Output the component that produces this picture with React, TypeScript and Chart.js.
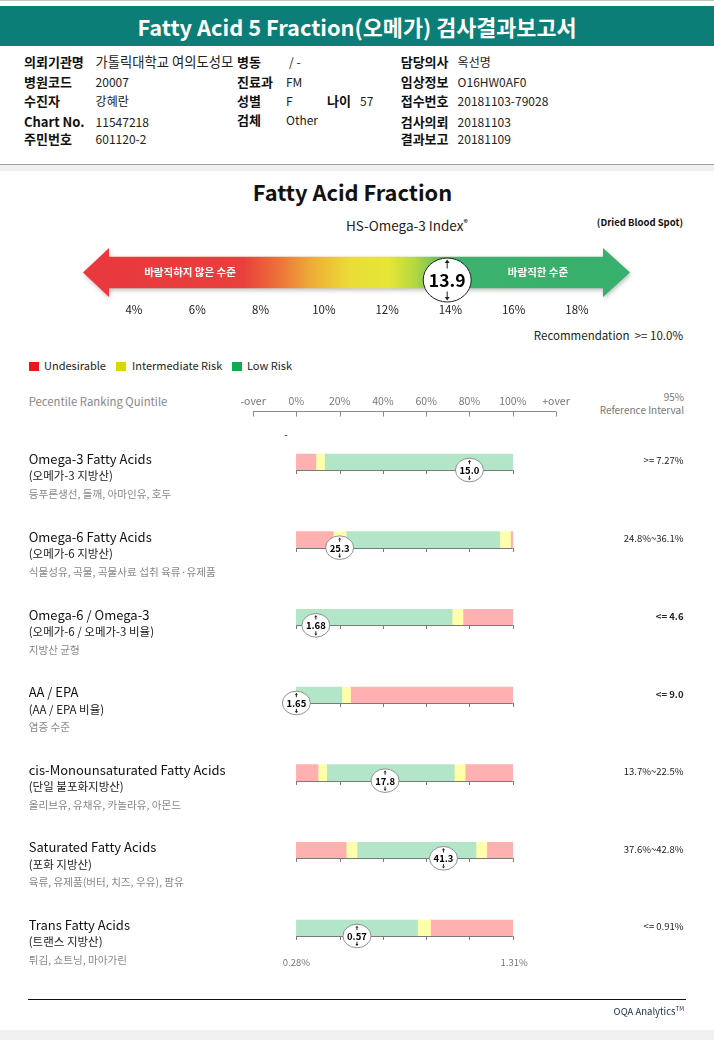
import React, { useEffect, useRef } from 'react';
import { Chart, registerables } from 'chart.js';

Chart.register(...registerables);

const FONT = "'Noto Sans CJK KR', 'Noto Sans', sans-serif";

// ---------------- data ----------------
const indexTicks = [4, 6, 8, 10, 12, 14, 16, 18];
const indexValue = 13.9;
const indexRecommendation = '>= 10.0%';

const rowNames = [
  'Omega-3 Fatty Acids',
  'Omega-6 Fatty Acids',
  'Omega-6 / Omega-3',
  'AA / EPA',
  'cis-Monounsaturated Fatty Acids',
  'Saturated Fatty Acids',
  'Trans Fatty Acids',
];
const rowKorean = [
  '(오메가-3 지방산)',
  '(오메가-6 지방산)',
  '(오메가-6 / 오메가-3 비율)',
  '(AA / EPA 비율)',
  '(단일 불포화지방산)',
  '(포화 지방산)',
  '(트랜스 지방산)',
];
const rowSources = [
  '등푸른생선, 들깨, 아마인유, 호두',
  '식물성유, 곡물, 곡물사료 섭취 육류·유제품',
  '지방산 균형',
  '염증 수준',
  '올리브유, 유채유, 카놀라유, 아몬드',
  '육류, 유제품(버터, 치즈, 우유), 팜유',
  '튀김, 쇼트닝, 마아가린',
];
const referenceIntervals = ['>= 7.27%', '24.8%~36.1%', '<= 4.6', '<= 9.0', '13.7%~22.5%', '37.6%~42.8%', '<= 0.91%'];
const referenceBold = [false, false, true, true, false, false, false];
const resultValues = ['15.0', '25.3', '1.68', '1.65', '17.8', '41.3', '0.57'];
const resultPercentiles = [80, 20, 9, 0, 41, 68, 28];

// zone kinds (U = undesirable, I = intermediate, L = low risk) and zone end percentiles
const zoneKinds = [
  ['U', 'I', 'L'],
  ['U', 'I', 'L', 'I', 'U'],
  ['L', 'I', 'U'],
  ['L', 'I', 'U'],
  ['U', 'I', 'L', 'I', 'U'],
  ['U', 'I', 'L', 'I', 'U'],
  ['L', 'I', 'U'],
];
const zoneEnds = [
  [9, 13, 100],
  [17, 23, 94, 99, 100],
  [72, 77, 100],
  [21, 25, 100],
  [10, 14, 73, 78, 100],
  [23, 28, 83, 88, 100],
  [56, 62, 100],
];
const quintileTicks = [-20, 0, 20, 40, 60, 80, 100, 120];
const quintileLabels = ['-over', '0%', '20%', '40%', '60%', '80%', '100%', '+over'];
const transRangeLabels = ['0.28%', '1.31%'];

const legendLabels = ['Undesirable', 'Intermediate Risk', 'Low Risk'];

const infoLabels1 = ['의뢰기관명', '병원코드', '수진자', 'Chart No.', '주민번호'];
const infoValues1 = ['가톨릭대학교 여의도성모', '20007', '강혜란', '11547218', '601120-2'];
const infoLabels3 = ['담당의사', '임상정보', '접수번호', '검사의뢰', '결과보고'];
const infoValues3 = ['옥선명', 'O16HW0AF0', '20181103-79028', '20181103', '20181109'];

// ---------------- styles ----------------
const zoneColors: Record<string, string> = { U: '#ffb1b1', I: '#ffffab', L: '#b3e6c8' };
const legendColors = ['#f01414', '#d8d800', '#16a652'];

type TP = {
  x: number;
  y: number;
  s: number;
  c?: string;
  w?: number;
  a?: 'left' | 'center' | 'right';
  children: React.ReactNode;
  clip?: number;
};
function T({ x, y, s, c = '#111', w = 400, a = 'left', children, clip }: TP) {
  const style: React.CSSProperties = {
    position: 'absolute',
    top: y,
    fontSize: s,
    color: c,
    fontWeight: w,
    lineHeight: 1.2,
    whiteSpace: 'nowrap',
    fontFamily: FONT,
  };
  let tx = '';
  if (a === 'left') style.left = x;
  else if (a === 'right') style.right = 714 - x;
  else {
    style.left = x;
    tx = 'translateX(-50%) ';
  }
  style.transform = tx + 'translateY(-50%)';
  if (clip) {
    style.width = clip;
    style.overflow = 'hidden';
  }
  return <div style={style}>{children}</div>;
}

function drawMarker(
  ctx: CanvasRenderingContext2D,
  x: number,
  y: number,
  rx: number,
  ry: number,
  text: string,
  fontSize: number,
  arrowLen: number,
  head: number,
  lw: number,
  stroke: string
) {
  ctx.save();
  ctx.beginPath();
  ctx.ellipse(x, y, rx, ry, 0, 0, Math.PI * 2);
  ctx.fillStyle = '#ffffff';
  ctx.fill();
  ctx.lineWidth = lw;
  ctx.strokeStyle = stroke;
  ctx.stroke();
  // arrows
  ctx.strokeStyle = '#222';
  ctx.fillStyle = '#222';
  ctx.lineWidth = 1;
  const t = y - ry + 1.5;
  ctx.beginPath();
  ctx.moveTo(x, t + head);
  ctx.lineTo(x, t + arrowLen);
  ctx.stroke();
  ctx.beginPath();
  ctx.moveTo(x, t);
  ctx.lineTo(x - head * 0.7, t + head);
  ctx.lineTo(x + head * 0.7, t + head);
  ctx.closePath();
  ctx.fill();
  const b = y + ry - 1.5;
  ctx.beginPath();
  ctx.moveTo(x, b - head);
  ctx.lineTo(x, b - arrowLen);
  ctx.stroke();
  ctx.beginPath();
  ctx.moveTo(x, b);
  ctx.lineTo(x - head * 0.7, b - head);
  ctx.lineTo(x + head * 0.7, b - head);
  ctx.closePath();
  ctx.fill();
  ctx.font = `bold ${fontSize}px ${FONT}`;
  ctx.textAlign = 'center';
  ctx.textBaseline = 'middle';
  ctx.fillStyle = '#000';
  ctx.fillText(text, x, y + 0.5);
  ctx.restore();
}

function IndexChart() {
  const ref = useRef<HTMLCanvasElement>(null);
  useEffect(() => {
    if (!ref.current) return;
    const arrowPlugin = {
      id: 'arrowBand',
      beforeDatasetsDraw(chart: any) {
        const { ctx, chartArea } = chart;
        const cy = (chartArea.top + chartArea.bottom) / 2;
        const L = 83, LB = 109, RB = 603, R = 630;
        const hh = 24.5, sh = 15.7;
        const g = ctx.createLinearGradient(L, 0, R, 0);
        const stop = (px: number, c: string) => g.addColorStop((px - L) / (R - L), c);
        stop(83, '#e8383e');
        stop(243, '#e8403c');
        stop(280, '#ec7438');
        stop(315, '#eeb238');
        stop(350, '#eadc36');
        stop(388, '#e6e636');
        stop(415, '#b4d842');
        stop(440, '#62bd5e');
        stop(462, '#3cb26e');
        stop(630, '#36b06c');
        ctx.save();
        ctx.shadowColor = 'rgba(0,0,0,0.25)';
        ctx.shadowBlur = 4;
        ctx.shadowOffsetY = 2;
        ctx.shadowOffsetX = 1;
        ctx.beginPath();
        ctx.moveTo(L, cy);
        ctx.lineTo(LB, cy - hh);
        ctx.lineTo(LB, cy - sh);
        ctx.lineTo(RB, cy - sh);
        ctx.lineTo(RB, cy - hh);
        ctx.lineTo(R, cy);
        ctx.lineTo(RB, cy + hh);
        ctx.lineTo(RB, cy + sh);
        ctx.lineTo(LB, cy + sh);
        ctx.lineTo(LB, cy + hh);
        ctx.closePath();
        ctx.fillStyle = g;
        ctx.fill();
        ctx.restore();
        ctx.save();
        ctx.font = `bold 10.5px ${FONT}`;
        ctx.fillStyle = '#ffffff';
        ctx.textAlign = 'center';
        ctx.textBaseline = 'middle';
        ctx.fillText('바람직하지 않은 수준', 190, cy);
        ctx.fillText('바람직한 수준', 538, cy);
        ctx.restore();
      },
      afterDatasetsDraw(chart: any) {
        const { ctx, chartArea } = chart;
        const cy = (chartArea.top + chartArea.bottom) / 2;
        const pt = chart.getDatasetMeta(0).data[0];
        drawMarker(ctx, pt.x, cy + 7.5, 24, 22, String(indexValue), 17.5, 9, 3.5, 1, '#222');
      },
    };
    const chart = new Chart(ref.current, {
      type: 'scatter',
      data: { datasets: [{ data: [{ x: indexValue, y: 0 }], pointRadius: 0 }] },
      options: {
        animation: false,
        responsive: false,
        events: [],
        layout: { padding: { left: 70.7, right: 73.8, top: 7, bottom: 0 } },
        plugins: { legend: { display: false }, tooltip: { enabled: false } },
        scales: {
          x: {
            type: 'linear',
            min: 2,
            max: 20,
            position: 'bottom',
            afterBuildTicks: (s: any) => {
              s.ticks = indexTicks.map((v) => ({ value: v }));
            },
            ticks: {
              callback: (v: any) => v + '%',
              padding: 5,
              font: { family: FONT, size: 11.5 },
              color: '#222',
              autoSkip: false,
              maxRotation: 0,
            },
            grid: { display: false, drawTicks: false },
            border: { display: false },
            afterFit: (s: any) => {
              s.height = 22;
            },
          },
          y: { display: false, min: -1, max: 1 },
        },
      } as any,
      plugins: [arrowPlugin],
    });
    return () => chart.destroy();
  }, []);
  return (
    <canvas
      ref={ref}
      width={714}
      height={80}
      style={{ position: 'absolute', left: 0, top: 240, width: 714, height: 80 }}
    />
  );
}

function RowsChart() {
  const ref = useRef<HTMLCanvasElement>(null);
  useEffect(() => {
    if (!ref.current) return;
    const maxZones = Math.max(...zoneEnds.map((z) => z.length));
    const datasets = [];
    for (let k = 0; k < maxZones; k++) {
      datasets.push({
        label: 'zone' + k,
        data: zoneEnds.map((ends) => (k < ends.length ? ends[k] - (k > 0 ? ends[k - 1] : 0) : 0)),
        backgroundColor: zoneKinds.map((kinds) => (k < kinds.length ? zoneColors[kinds[k]] : 'rgba(0,0,0,0)')),
        borderWidth: 0,
        borderSkipped: false,
        barThickness: 16,
      });
    }
    const rowPlugin = {
      id: 'rowDecor',
      afterDatasetsDraw(chart: any) {
        const { ctx, chartArea } = chart;
        const xs = chart.scales.x;
        const ys = chart.scales.y;
        ctx.save();
        // quintile header axis
        const ay = Math.round(chartArea.top - 12) + 0.5;
        ctx.strokeStyle = '#8a8a8a';
        ctx.lineWidth = 1;
        ctx.beginPath();
        ctx.moveTo(xs.getPixelForValue(quintileTicks[0]), ay);
        ctx.lineTo(xs.getPixelForValue(quintileTicks[quintileTicks.length - 1]), ay);
        quintileTicks.forEach((v) => {
          const px = Math.round(xs.getPixelForValue(v)) + 0.5;
          ctx.moveTo(px, ay);
          ctx.lineTo(px, ay + 5);
        });
        ctx.stroke();
        // rows
        rowNames.forEach((_, i) => {
          const yc = ys.getPixelForValue(i);
          const yb = Math.round(yc + 8) + 0.5;
          ctx.strokeStyle = '#7a7a7a';
          ctx.beginPath();
          ctx.moveTo(xs.getPixelForValue(0), yb);
          ctx.lineTo(xs.getPixelForValue(100), yb);
          quintileTicks
            .filter((v) => v >= 0 && v <= 100)
            .forEach((v) => {
              const px = Math.round(xs.getPixelForValue(v)) + 0.5;
              ctx.moveTo(px, yb - 0.5);
              ctx.lineTo(px, yb + 3.5);
            });
          ctx.stroke();
        });
        rowNames.forEach((_, i) => {
          const yc = ys.getPixelForValue(i);
          drawMarker(ctx, xs.getPixelForValue(resultPercentiles[i]), yc + 8, 14, 11.8, resultValues[i], 9.5, 4.5, 2.2, 0.8, '#777');
        });
        // trans range labels
        const last = rowNames.length - 1;
        const ty = ys.getPixelForValue(last) + 34;
        ctx.font = `9.5px ${FONT}`;
        ctx.fillStyle = '#777';
        ctx.textAlign = 'center';
        ctx.textBaseline = 'middle';
        ctx.fillText(transRangeLabels[0], xs.getPixelForValue(0), ty);
        ctx.fillText(transRangeLabels[1], xs.getPixelForValue(100) + 1.5, ty);
        ctx.restore();
      },
    };
    const chart = new Chart(ref.current, {
      type: 'bar',
      data: { labels: rowNames, datasets },
      options: {
        indexAxis: 'y',
        animation: false,
        responsive: false,
        events: [],
        layout: { padding: { left: 253.1, right: 158, top: 0, bottom: 13.2 } },
        plugins: { legend: { display: false }, tooltip: { enabled: false } },
        scales: {
          x: {
            type: 'linear',
            stacked: true,
            min: -20,
            max: 120,
            position: 'top',
            afterBuildTicks: (s: any) => {
              s.ticks = quintileTicks.map((v) => ({ value: v }));
            },
            ticks: {
              callback: (_v: any, i: number) => quintileLabels[i],
              padding: 16,
              font: { family: FONT, size: 10.5 },
              color: '#777',
              autoSkip: false,
              maxRotation: 0,
            },
            grid: { display: false, drawTicks: false },
            border: { display: false },
            afterFit: (s: any) => {
              s.height = 43.2;
            },
          },
          y: { type: 'category', stacked: true, display: false },
        },
      } as any,
      plugins: [rowPlugin],
    });
    return () => chart.destroy();
  }, []);
  return (
    <canvas
      ref={ref}
      width={714}
      height={600}
      style={{ position: 'absolute', left: 0, top: 380, width: 714, height: 600 }}
    />
  );
}

export default function App() {
  const infoY = [62.3, 81.7, 101, 121.5, 138.7];
  const rowTop = [454, 532, 610, 687.5, 765, 842.5, 920];
  return (
    <div
      style={{
        position: 'absolute',
        left: 0,
        top: 0,
        width: 714,
        height: 1040,
        background: '#f0f0f0',
        overflow: 'hidden',
        fontFamily: FONT,
      }}
    >
      <div style={{ position: 'absolute', left: 0, top: 0, width: 714, height: 1, background: '#c4c4c4' }} />
      <div style={{ position: 'absolute', left: 0, top: 1, width: 714, height: 163, background: '#ffffff' }} />
      <div style={{ position: 'absolute', left: 0, top: 6, width: 714, height: 40, background: '#0b7e77' }} />
      <T x={357} y={27} s={21.8} w={700} c="#ffffff" a="center">
        Fatty Acid 5 Fraction(오메가) 검사결과보고서
      </T>
      {infoLabels1.map((l, i) => (
        <T key={'l1' + i} x={24} y={infoY[i]} s={13} w={700}>
          {l}
        </T>
      ))}
      {infoValues1.map((v, i) => (
        <T key={'v1' + i} x={95.6} y={infoY[i]} s={i === 0 ? 13.3 : 12} c="#222">
          {v}
        </T>
      ))}
      <T x={237} y={infoY[0]} s={13} w={700}>병동</T>
      <T x={289} y={infoY[0]} s={12} c="#222">/ -</T>
      <T x={237} y={infoY[1]} s={13} w={700}>진료과</T>
      <T x={286} y={infoY[1]} s={12} c="#222">FM</T>
      <T x={237} y={infoY[2]} s={13} w={700}>성별</T>
      <T x={286} y={infoY[2]} s={12} c="#222">F</T>
      <T x={327} y={infoY[2]} s={13} w={700}>나이</T>
      <T x={360} y={infoY[2]} s={12} c="#222">57</T>
      <T x={237} y={119.5} s={13} w={700}>검체</T>
      <T x={286} y={120} s={12} c="#222">Other</T>
      {infoLabels3.map((l, i) => (
        <T key={'l3' + i} x={400.7} y={infoY[i]} s={13} w={700}>
          {l}
        </T>
      ))}
      {infoValues3.map((v, i) => (
        <T key={'v3' + i} x={457.6} y={infoY[i]} s={12} c="#222">
          {v}
        </T>
      ))}
      <div style={{ position: 'absolute', left: 0, top: 164, width: 714, height: 1, background: '#a0a0a0' }} />
      <div style={{ position: 'absolute', left: 0, top: 171, width: 714, height: 859, background: '#ffffff' }} />

      <T x={352.5} y={192} s={21.8} w={700} a="center">Fatty Acid Fraction</T>
      <T x={346} y={224.5} s={13.5} c="#222">
        HS-Omega-3 Index<sup style={{ fontSize: 8.5, fontWeight: 700 }}>®</sup>
      </T>
      <T x={683} y={223} s={9.5} w={700} a="right">(Dried Blood Spot)</T>
      <IndexChart />
      <T x={683} y={336} s={11.5} c="#222" a="right">
        Recommendation&nbsp;&nbsp;{indexRecommendation}
      </T>

      {legendLabels.map((l, i) => {
        const sx = [29, 116, 232][i];
        const tx = [44, 132, 247][i];
        return (
          <React.Fragment key={'lg' + i}>
            <div
              style={{ position: 'absolute', left: sx, top: 361.5, width: 10, height: 9, background: legendColors[i] }}
            />
            <T x={tx} y={366} s={11} c="#222">
              {l}
            </T>
          </React.Fragment>
        );
      })}
      <T x={28.7} y={402} s={11.3} c="#888">Pecentile Ranking Quintile</T>
      <T x={684} y={396.5} s={10} c="#777" a="right">95%</T>
      <T x={684} y={410} s={10} c="#777" a="right">Reference Interval</T>
      <T x={286} y={434} s={10} c="#111" a="center">-</T>

      <RowsChart />

      {rowNames.map((n, i) => (
        <React.Fragment key={'row' + i}>
          <T x={28.7} y={rowTop[i] + 4.5} s={13} c="#111">{n}</T>
          <T x={28.7} y={rowTop[i] + 22} s={11.5} c="#222">{rowKorean[i]}</T>
          <T x={28.7} y={rowTop[i] + 39.5} s={10.6} c="#888">{rowSources[i]}</T>
          <T x={683.5} y={rowTop[i] + 7} s={9.5} c="#222" w={referenceBold[i] ? 700 : 400} a="right">
            {referenceIntervals[i]}
          </T>
        </React.Fragment>
      ))}

      <div style={{ position: 'absolute', left: 28, top: 998.5, width: 658, height: 1, background: '#111' }} />
      <T x={684} y={1011} s={9.5} c="#1f2d4d" a="right">
        OQA Analytics<sup style={{ fontSize: 6 }}>TM</sup>
      </T>
    </div>
  );
}
